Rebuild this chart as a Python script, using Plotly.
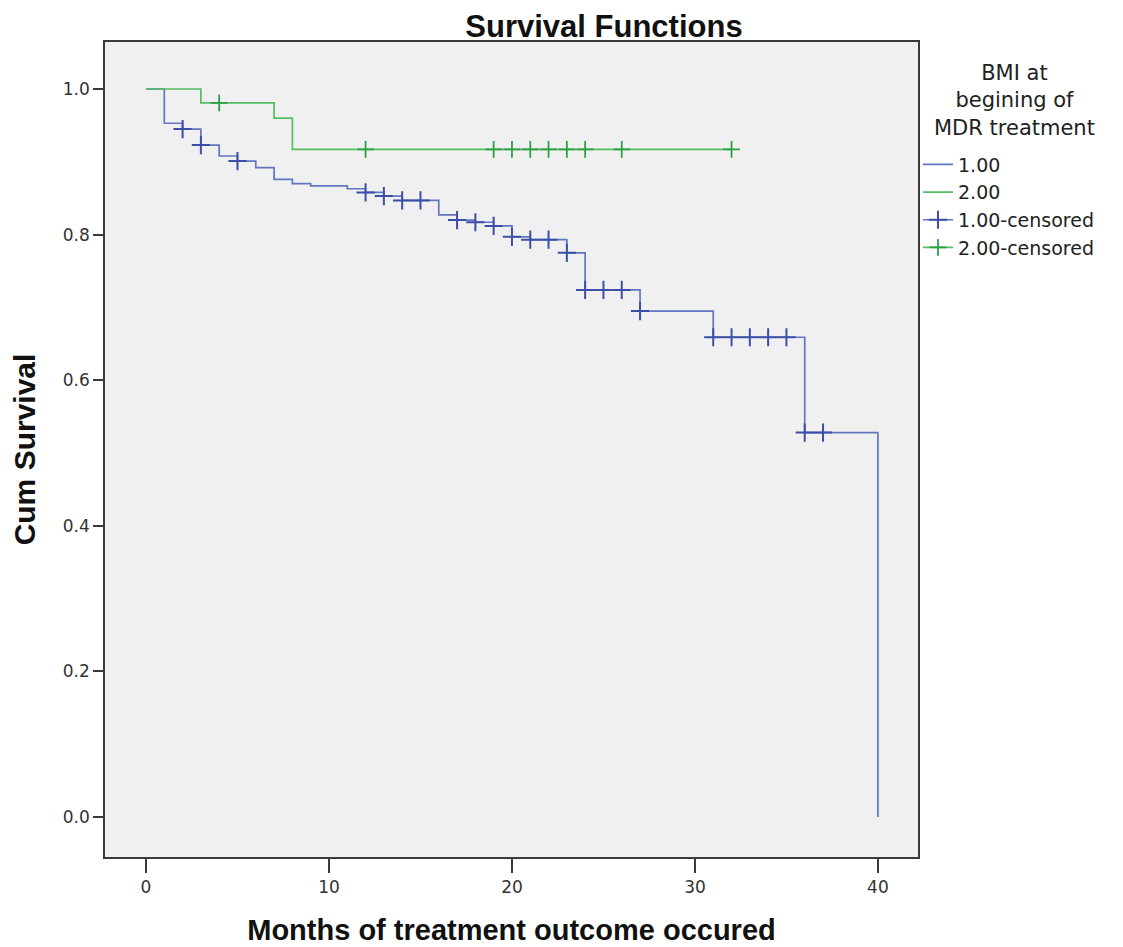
import plotly.graph_objects as go

# ---- data ----
blue_time = [0, 1, 2, 3, 4, 5, 6, 7, 8, 9, 11, 12, 13, 14, 16, 17, 18, 19, 20, 21, 23, 24, 27, 31, 36, 40]
blue_surv = [1.0, 0.953, 0.945, 0.923, 0.908, 0.901, 0.892, 0.876, 0.870, 0.867, 0.863, 0.858, 0.853,
             0.847, 0.827, 0.820, 0.817, 0.812, 0.797, 0.793, 0.775, 0.724, 0.695, 0.659, 0.528, 0.0]
blue_censor = [2, 3, 5, 12, 13, 14, 15, 17, 18, 19, 20, 21, 22, 23, 24, 25, 26, 27, 31, 32, 33, 34, 35, 36, 37]

green_time = [0, 3, 7, 8, 32]
green_surv = [1.0, 0.981, 0.960, 0.917, 0.917]
green_censor = [4, 12, 19, 20, 21, 22, 23, 24, 26, 32]

x_ticks = [0, 10, 20, 30, 40]
y_ticks = [0.0, 0.2, 0.4, 0.6, 0.8, 1.0]

legend_title = "BMI at<br>begining of<br>MDR treatment"

BLUE_LINE = "#6275c0"
BLUE_MARK = "#3b4fa6"
GREEN_LINE = "#55bd64"
GREEN_MARK = "#2f9f47"


def surv_at(t, times, surv):
    val = surv[0]
    for ti, si in zip(times, surv):
        if ti <= t:
            val = si
    return val


fig = go.Figure()

fig.add_trace(go.Scatter(x=blue_time, y=blue_surv, mode="lines", line=dict(color=BLUE_LINE, width=1.7, shape="hv"),
                         showlegend=False, hoverinfo="skip"))
fig.add_trace(go.Scatter(x=green_time, y=green_surv, mode="lines", line=dict(color=GREEN_LINE, width=1.7, shape="hv"),
                         showlegend=False, hoverinfo="skip"))
fig.add_trace(go.Scatter(x=blue_censor, y=[surv_at(t, blue_time[:-1], blue_surv[:-1]) for t in blue_censor],
                         mode="markers", marker=dict(symbol="cross-thin", size=13, line=dict(color=BLUE_MARK, width=2)),
                         showlegend=False))
fig.add_trace(go.Scatter(x=green_censor, y=[surv_at(t, green_time, green_surv) for t in green_censor],
                         mode="markers", marker=dict(symbol="cross-thin", size=12, line=dict(color=GREEN_MARK, width=1.8)),
                         showlegend=False))

# legend entries
fig.add_trace(go.Scatter(x=[None], y=[None], mode="lines", name="1.00", line=dict(color=BLUE_LINE, width=1.7)))
fig.add_trace(go.Scatter(x=[None], y=[None], mode="lines", name="2.00", line=dict(color=GREEN_LINE, width=1.7)))
fig.add_trace(go.Scatter(x=[None], y=[None], mode="lines+markers", name="1.00-censored",
                         line=dict(color=BLUE_LINE, width=1.7),
                         marker=dict(symbol="cross-thin", size=13, line=dict(color=BLUE_MARK, width=2))))
fig.add_trace(go.Scatter(x=[None], y=[None], mode="lines+markers", name="2.00-censored",
                         line=dict(color=GREEN_LINE, width=1.7),
                         marker=dict(symbol="cross-thin", size=12, line=dict(color=GREEN_MARK, width=1.8))))

axis_common = dict(showline=True, linecolor="#3a3a3a", linewidth=1.5, mirror=True, showgrid=False,
                   zeroline=False, ticks="outside", tickcolor="#3a3a3a", tickwidth=1.5, automargin=False,
                   tickfont=dict(family="DejaVu Sans", size=17, color="#333333"))

fig.update_layout(
    width=1123, height=947,
    margin=dict(l=97, r=213, t=34, b=98),
    paper_bgcolor="white", plot_bgcolor="#f0f0f0",
    title=dict(text="<b>Survival Functions</b>", x=596 / 1123, xanchor="center", y=1 - 18 / 947, yanchor="middle",
               font=dict(family="Liberation Sans", size=31, color="#111111")),
    xaxis=dict(range=[-2.24, 42.19], tickvals=x_ticks, ticklen=14,
               title=dict(text="<b>Months of treatment outcome occured</b>", standoff=24,
                          font=dict(family="Liberation Sans", size=29, color="#111111")),
               **axis_common),
    yaxis=dict(range=[-0.055, 1.0646], tickvals=y_ticks, tickformat=".1f", ticklen=10,
               title=dict(text="<b>Cum Survival</b>", standoff=18,
                          font=dict(family="Liberation Sans", size=30, color="#111111")),
               **axis_common),
    legend=dict(x=1.0, xanchor="left", y=0.873, yanchor="top", bgcolor="rgba(0,0,0,0)",
                itemwidth=30, tracegroupgap=0,
                font=dict(family="DejaVu Sans", size=19, color="#222222")),
    annotations=[dict(text=legend_title, xref="paper", yref="paper", x=1.119, y=0.928,
                      xanchor="center", yanchor="middle", align="center", showarrow=False,
                      font=dict(family="DejaVu Sans", size=21, color="#222222"))],
)

fig.write_html("out.html")
